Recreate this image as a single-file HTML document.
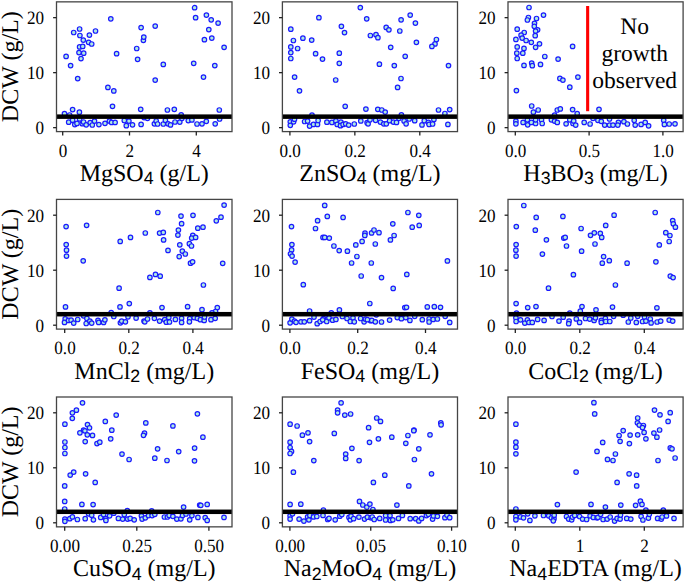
<!DOCTYPE html>
<html><head><meta charset="utf-8"><style>html,body{margin:0;padding:0;background:#fff;width:685px;height:583px;overflow:hidden}</style></head><body><svg width="685" height="583" viewBox="0 0 685 583" style="display:block;font-family:'Liberation Serif',serif;text-rendering:geometricPrecision">
<rect width="685" height="583" fill="#fff"/>
<g><g fill="#aeeadf" stroke="#1a1aff" stroke-width="1.2"><circle cx="110.8" cy="18.8" r="2.25"/><circle cx="141.1" cy="27.6" r="2.25"/><circle cx="79.6" cy="29.0" r="2.25"/><circle cx="73.7" cy="32.5" r="2.25"/><circle cx="95.5" cy="31.0" r="2.25"/><circle cx="79.9" cy="35.5" r="2.25"/><circle cx="89.4" cy="35.1" r="2.25"/><circle cx="83.3" cy="40.1" r="2.25"/><circle cx="88.6" cy="42.3" r="2.25"/><circle cx="91.7" cy="44.0" r="2.25"/><circle cx="79.6" cy="46.9" r="2.25"/><circle cx="82.7" cy="46.4" r="2.25"/><circle cx="79.0" cy="52.6" r="2.25"/><circle cx="83.7" cy="53.2" r="2.25"/><circle cx="66.1" cy="56.4" r="2.25"/><circle cx="81.0" cy="58.6" r="2.25"/><circle cx="70.6" cy="65.6" r="2.25"/><circle cx="116.6" cy="53.7" r="2.25"/><circle cx="136.7" cy="48.5" r="2.25"/><circle cx="137.6" cy="59.3" r="2.25"/><circle cx="143.4" cy="40.3" r="2.25"/><circle cx="143.8" cy="37.1" r="2.25"/><circle cx="155.2" cy="26.1" r="2.25"/><circle cx="194.6" cy="7.7" r="2.25"/><circle cx="195.6" cy="17.7" r="2.25"/><circle cx="206.4" cy="15.1" r="2.25"/><circle cx="211.2" cy="19.8" r="2.25"/><circle cx="218.1" cy="23.1" r="2.25"/><circle cx="208.8" cy="29.6" r="2.25"/><circle cx="204.4" cy="39.7" r="2.25"/><circle cx="211.8" cy="38.1" r="2.25"/><circle cx="224.1" cy="47.3" r="2.25"/><circle cx="163.3" cy="64.4" r="2.25"/><circle cx="193.7" cy="63.3" r="2.25"/><circle cx="214.8" cy="65.6" r="2.25"/><circle cx="77.7" cy="78.6" r="2.25"/><circle cx="107.9" cy="87.4" r="2.25"/><circle cx="113.8" cy="90.9" r="2.25"/><circle cx="155.2" cy="80.1" r="2.25"/><circle cx="203.5" cy="77.1" r="2.25"/><circle cx="112.5" cy="106.3" r="2.25"/><circle cx="72.6" cy="109.6" r="2.25"/><circle cx="79.4" cy="112.2" r="2.25"/><circle cx="64.5" cy="113.7" r="2.25"/><circle cx="69.6" cy="115" r="2.25"/><circle cx="140.7" cy="109.3" r="2.25"/><circle cx="167.4" cy="110" r="2.25"/><circle cx="174.3" cy="109.3" r="2.25"/><circle cx="219.3" cy="110" r="2.25"/><circle cx="181.2" cy="114.8" r="2.25"/><circle cx="144.1" cy="117.6" r="2.25"/><circle cx="68.7" cy="122.2" r="2.25"/><circle cx="72.6" cy="120.2" r="2.25"/><circle cx="74.8" cy="124.6" r="2.25"/><circle cx="77" cy="123.4" r="2.25"/><circle cx="79.6" cy="118.9" r="2.25"/><circle cx="82.3" cy="123.7" r="2.25"/><circle cx="83.6" cy="122" r="2.25"/><circle cx="86.2" cy="124.8" r="2.25"/><circle cx="90.2" cy="122.6" r="2.25"/><circle cx="92.3" cy="125" r="2.25"/><circle cx="94.5" cy="121.1" r="2.25"/><circle cx="98.9" cy="124.6" r="2.25"/><circle cx="105" cy="123.3" r="2.25"/><circle cx="109.4" cy="121.1" r="2.25"/><circle cx="111.6" cy="122.4" r="2.25"/><circle cx="115.1" cy="122.4" r="2.25"/><circle cx="124.3" cy="120.5" r="2.25"/><circle cx="128.9" cy="121.1" r="2.25"/><circle cx="126.3" cy="125.7" r="2.25"/><circle cx="132.5" cy="124.8" r="2.25"/><circle cx="141.1" cy="124.4" r="2.25"/><circle cx="147.5" cy="118.3" r="2.25"/><circle cx="154.4" cy="123.8" r="2.25"/><circle cx="156.2" cy="121" r="2.25"/><circle cx="157.6" cy="124" r="2.25"/><circle cx="163.3" cy="124" r="2.25"/><circle cx="165.4" cy="120.3" r="2.25"/><circle cx="168.1" cy="123.8" r="2.25"/><circle cx="170.5" cy="124.9" r="2.25"/><circle cx="175" cy="122" r="2.25"/><circle cx="179.8" cy="122.1" r="2.25"/><circle cx="181.9" cy="118.3" r="2.25"/><circle cx="188.3" cy="120.6" r="2.25"/><circle cx="191.9" cy="119.9" r="2.25"/><circle cx="197" cy="124" r="2.25"/><circle cx="202" cy="123.8" r="2.25"/><circle cx="206.3" cy="121.3" r="2.25"/><circle cx="215.2" cy="123.8" r="2.25"/><circle cx="219.6" cy="119" r="2.25"/></g><rect x="56.5" y="114.40" width="175.50" height="4.5" fill="#000"/><rect x="56.5" y="1.85" width="175.50" height="129.75" fill="none" stroke="#454545" stroke-width="1.3"/><line x1="53.1" x2="56.5" y1="127.65" y2="127.65" stroke="#222" stroke-width="1.3"/><text transform="translate(44.10,134.15) scale(0.91,1)" font-size="18.8" text-anchor="end">0</text><line x1="53.1" x2="56.5" y1="72.65" y2="72.65" stroke="#222" stroke-width="1.3"/><text transform="translate(44.10,79.15) scale(0.91,1)" font-size="18.8" text-anchor="end">10</text><line x1="53.1" x2="56.5" y1="17.65" y2="17.65" stroke="#222" stroke-width="1.3"/><text transform="translate(44.10,24.15) scale(0.91,1)" font-size="18.8" text-anchor="end">20</text><line x1="62.70" x2="62.70" y1="131.6" y2="135.5" stroke="#222" stroke-width="1.3"/><text transform="translate(63.00,156.60) scale(0.91,1)" font-size="18.8" text-anchor="middle">0</text><line x1="129.50" x2="129.50" y1="131.6" y2="135.5" stroke="#222" stroke-width="1.3"/><text transform="translate(129.80,156.60) scale(0.91,1)" font-size="18.8" text-anchor="middle">2</text><line x1="196.30" x2="196.30" y1="131.6" y2="135.5" stroke="#222" stroke-width="1.3"/><text transform="translate(196.60,156.60) scale(0.91,1)" font-size="18.8" text-anchor="middle">4</text><text x="144.25" y="181.20" font-size="24" text-anchor="middle" xml:space="preserve">MgSO<tspan font-size="17.8" dy="3.2" font-family="'Liberation Sans',sans-serif">4</tspan><tspan dy="-3.2"> (g/L)</tspan></text><text transform="translate(18,66.72) rotate(-90)" font-size="24" text-anchor="middle">DCW (g/L)</text></g>
<g><g fill="#aeeadf" stroke="#1a1aff" stroke-width="1.2"><circle cx="360.3" cy="7.6" r="2.25"/><circle cx="318.9" cy="17.7" r="2.25"/><circle cx="366.7" cy="18.8" r="2.25"/><circle cx="290.8" cy="29.2" r="2.25"/><circle cx="341.4" cy="26.3" r="2.25"/><circle cx="344.5" cy="32.6" r="2.25"/><circle cx="370.4" cy="35.5" r="2.25"/><circle cx="293.4" cy="40.5" r="2.25"/><circle cx="302.9" cy="38.2" r="2.25"/><circle cx="311.7" cy="40.1" r="2.25"/><circle cx="290.8" cy="46.9" r="2.25"/><circle cx="297.6" cy="48.5" r="2.25"/><circle cx="290.8" cy="52.6" r="2.25"/><circle cx="290.8" cy="58.5" r="2.25"/><circle cx="315.6" cy="53.7" r="2.25"/><circle cx="322.5" cy="59.1" r="2.25"/><circle cx="339.3" cy="53.2" r="2.25"/><circle cx="339.3" cy="63.3" r="2.25"/><circle cx="410.2" cy="15.1" r="2.25"/><circle cx="401.1" cy="19.8" r="2.25"/><circle cx="415.4" cy="23.1" r="2.25"/><circle cx="386.2" cy="27.4" r="2.25"/><circle cx="388.9" cy="29.8" r="2.25"/><circle cx="399.8" cy="31.0" r="2.25"/><circle cx="376" cy="34.7" r="2.25"/><circle cx="377.9" cy="37.7" r="2.25"/><circle cx="416.4" cy="42.3" r="2.25"/><circle cx="436.4" cy="39.5" r="2.25"/><circle cx="435" cy="43.9" r="2.25"/><circle cx="431.9" cy="46.4" r="2.25"/><circle cx="390.7" cy="47.3" r="2.25"/><circle cx="405.2" cy="56.3" r="2.25"/><circle cx="379.4" cy="64.2" r="2.25"/><circle cx="394.3" cy="65.6" r="2.25"/><circle cx="448.5" cy="65.6" r="2.25"/><circle cx="294.6" cy="77.1" r="2.25"/><circle cx="299.5" cy="90.8" r="2.25"/><circle cx="335.7" cy="80" r="2.25"/><circle cx="345.2" cy="106.3" r="2.25"/><circle cx="365.9" cy="109.1" r="2.25"/><circle cx="312" cy="115.2" r="2.25"/><circle cx="290.3" cy="121.8" r="2.25"/><circle cx="290.3" cy="125.3" r="2.25"/><circle cx="293.6" cy="121.8" r="2.25"/><circle cx="294.5" cy="119.2" r="2.25"/><circle cx="304.6" cy="121.5" r="2.25"/><circle cx="307.6" cy="121.1" r="2.25"/><circle cx="309.6" cy="126.1" r="2.25"/><circle cx="313.5" cy="124.4" r="2.25"/><circle cx="317.5" cy="124.4" r="2.25"/><circle cx="318.1" cy="120.5" r="2.25"/><circle cx="326.9" cy="122.2" r="2.25"/><circle cx="331.9" cy="122.4" r="2.25"/><circle cx="335.9" cy="120.9" r="2.25"/><circle cx="337.2" cy="124.4" r="2.25"/><circle cx="340.9" cy="122.2" r="2.25"/><circle cx="340.5" cy="125.7" r="2.25"/><circle cx="343.1" cy="124.4" r="2.25"/><circle cx="345.7" cy="123.8" r="2.25"/><circle cx="348.7" cy="125.1" r="2.25"/><circle cx="354.3" cy="124" r="2.25"/><circle cx="360.8" cy="120.9" r="2.25"/><circle cx="367.1" cy="122.7" r="2.25"/><circle cx="368.1" cy="123.8" r="2.25"/><circle cx="370" cy="119.8" r="2.25"/><circle cx="401" cy="78.5" r="2.25"/><circle cx="397.6" cy="87.4" r="2.25"/><circle cx="377.8" cy="109.3" r="2.25"/><circle cx="381.8" cy="110" r="2.25"/><circle cx="385.2" cy="112.1" r="2.25"/><circle cx="401.4" cy="114.8" r="2.25"/><circle cx="438.5" cy="110" r="2.25"/><circle cx="449.7" cy="109.6" r="2.25"/><circle cx="444.9" cy="113.5" r="2.25"/><circle cx="375.6" cy="120.3" r="2.25"/><circle cx="380.4" cy="122.1" r="2.25"/><circle cx="383.8" cy="123.8" r="2.25"/><circle cx="386.3" cy="123.8" r="2.25"/><circle cx="389.6" cy="120.7" r="2.25"/><circle cx="393.4" cy="122.1" r="2.25"/><circle cx="396.5" cy="122.4" r="2.25"/><circle cx="398.9" cy="118.3" r="2.25"/><circle cx="404.1" cy="121" r="2.25"/><circle cx="406.1" cy="123.8" r="2.25"/><circle cx="409.2" cy="119" r="2.25"/><circle cx="414.7" cy="120.7" r="2.25"/><circle cx="422" cy="124.9" r="2.25"/><circle cx="424.3" cy="120.7" r="2.25"/><circle cx="428.4" cy="122.4" r="2.25"/><circle cx="429.1" cy="124.4" r="2.25"/><circle cx="432.6" cy="124" r="2.25"/><circle cx="433.9" cy="119.4" r="2.25"/><circle cx="447.9" cy="124.4" r="2.25"/></g><rect x="282.4" y="114.40" width="175.10" height="4.5" fill="#000"/><rect x="282.4" y="1.85" width="175.10" height="129.75" fill="none" stroke="#454545" stroke-width="1.3"/><line x1="279.0" x2="282.4" y1="127.65" y2="127.65" stroke="#222" stroke-width="1.3"/><text transform="translate(270.00,134.15) scale(0.91,1)" font-size="18.8" text-anchor="end">0</text><line x1="279.0" x2="282.4" y1="72.65" y2="72.65" stroke="#222" stroke-width="1.3"/><text transform="translate(270.00,79.15) scale(0.91,1)" font-size="18.8" text-anchor="end">10</text><line x1="279.0" x2="282.4" y1="17.65" y2="17.65" stroke="#222" stroke-width="1.3"/><text transform="translate(270.00,24.15) scale(0.91,1)" font-size="18.8" text-anchor="end">20</text><line x1="289.90" x2="289.90" y1="131.6" y2="135.5" stroke="#222" stroke-width="1.3"/><text transform="translate(290.20,156.60) scale(0.91,1)" font-size="18.8" text-anchor="middle">0.0</text><line x1="354.85" x2="354.85" y1="131.6" y2="135.5" stroke="#222" stroke-width="1.3"/><text transform="translate(355.15,156.60) scale(0.91,1)" font-size="18.8" text-anchor="middle">0.2</text><line x1="419.80" x2="419.80" y1="131.6" y2="135.5" stroke="#222" stroke-width="1.3"/><text transform="translate(420.10,156.60) scale(0.91,1)" font-size="18.8" text-anchor="middle">0.4</text><text x="369.95" y="181.20" font-size="24" text-anchor="middle" xml:space="preserve">ZnSO<tspan font-size="17.8" dy="3.2" font-family="'Liberation Sans',sans-serif">4</tspan><tspan dy="-3.2"> (mg/L)</tspan></text></g>
<g><g fill="#aeeadf" stroke="#1a1aff" stroke-width="1.2"><circle cx="529" cy="7.5" r="2.25"/><circle cx="543.5" cy="15.1" r="2.25"/><circle cx="528.4" cy="17.5" r="2.25"/><circle cx="527.4" cy="20" r="2.25"/><circle cx="536.5" cy="18.5" r="2.25"/><circle cx="534.5" cy="23.3" r="2.25"/><circle cx="534.3" cy="26.3" r="2.25"/><circle cx="537.6" cy="29.8" r="2.25"/><circle cx="535.6" cy="31.1" r="2.25"/><circle cx="517.2" cy="29.2" r="2.25"/><circle cx="524.2" cy="32.5" r="2.25"/><circle cx="521.1" cy="35.2" r="2.25"/><circle cx="522.2" cy="38.1" r="2.25"/><circle cx="535.2" cy="35.7" r="2.25"/><circle cx="515.9" cy="39.4" r="2.25"/><circle cx="526.1" cy="40.5" r="2.25"/><circle cx="531.3" cy="42.3" r="2.25"/><circle cx="539.5" cy="43.8" r="2.25"/><circle cx="535.6" cy="47.3" r="2.25"/><circle cx="517.2" cy="46.9" r="2.25"/><circle cx="524" cy="48.4" r="2.25"/><circle cx="516.8" cy="53.2" r="2.25"/><circle cx="522.8" cy="53.2" r="2.25"/><circle cx="517.2" cy="58.5" r="2.25"/><circle cx="544.8" cy="56.5" r="2.25"/><circle cx="558.1" cy="59.1" r="2.25"/><circle cx="572.6" cy="46.4" r="2.25"/><circle cx="531.7" cy="63.1" r="2.25"/><circle cx="532.3" cy="65.7" r="2.25"/><circle cx="524" cy="65.4" r="2.25"/><circle cx="540.5" cy="64.4" r="2.25"/><circle cx="516.4" cy="90.6" r="2.25"/><circle cx="559.9" cy="78.4" r="2.25"/><circle cx="562.9" cy="80.1" r="2.25"/><circle cx="577.9" cy="77.1" r="2.25"/><circle cx="569.8" cy="87.2" r="2.25"/><circle cx="531.7" cy="106" r="2.25"/><circle cx="538.2" cy="110" r="2.25"/><circle cx="533.4" cy="112.2" r="2.25"/><circle cx="557.3" cy="110" r="2.25"/><circle cx="560.3" cy="108.9" r="2.25"/><circle cx="572.6" cy="109.6" r="2.25"/><circle cx="577.2" cy="113.6" r="2.25"/><circle cx="599" cy="109.3" r="2.25"/><circle cx="554.6" cy="115.2" r="2.25"/><circle cx="515.9" cy="121.1" r="2.25"/><circle cx="515.9" cy="123.8" r="2.25"/><circle cx="523.1" cy="122.4" r="2.25"/><circle cx="527.4" cy="119.8" r="2.25"/><circle cx="527.7" cy="124.8" r="2.25"/><circle cx="531.4" cy="122.4" r="2.25"/><circle cx="535.6" cy="123.5" r="2.25"/><circle cx="535.6" cy="119.8" r="2.25"/><circle cx="541.5" cy="119.8" r="2.25"/><circle cx="542.2" cy="123.5" r="2.25"/><circle cx="551.4" cy="119.8" r="2.25"/><circle cx="554.6" cy="121.1" r="2.25"/><circle cx="557.3" cy="122.4" r="2.25"/><circle cx="566.1" cy="123.8" r="2.25"/><circle cx="569.8" cy="119.8" r="2.25"/><circle cx="573" cy="123.5" r="2.25"/><circle cx="573.7" cy="120.9" r="2.25"/><circle cx="575.7" cy="125.1" r="2.25"/><circle cx="584.2" cy="122.4" r="2.25"/><circle cx="590.1" cy="124" r="2.25"/><circle cx="593" cy="118.3" r="2.25"/><circle cx="597.9" cy="120.3" r="2.25"/><circle cx="601.3" cy="121.3" r="2.25"/><circle cx="604.7" cy="125.1" r="2.25"/><circle cx="609.5" cy="125.1" r="2.25"/><circle cx="609.5" cy="119" r="2.25"/><circle cx="613" cy="125.1" r="2.25"/><circle cx="618.4" cy="122.4" r="2.25"/><circle cx="617.8" cy="125.1" r="2.25"/><circle cx="623.9" cy="121.7" r="2.25"/><circle cx="627.4" cy="124" r="2.25"/><circle cx="634.2" cy="120.3" r="2.25"/><circle cx="635.2" cy="125.1" r="2.25"/><circle cx="641.1" cy="124.4" r="2.25"/><circle cx="645.2" cy="122.4" r="2.25"/><circle cx="648.6" cy="125.8" r="2.25"/><circle cx="663.7" cy="120.3" r="2.25"/><circle cx="664.4" cy="124.4" r="2.25"/><circle cx="669.2" cy="124" r="2.25"/><circle cx="675" cy="123.8" r="2.25"/></g><rect x="508.0" y="114.40" width="175.10" height="4.5" fill="#000"/><rect x="508.0" y="1.85" width="175.10" height="129.75" fill="none" stroke="#454545" stroke-width="1.3"/><line x1="504.6" x2="508.0" y1="127.65" y2="127.65" stroke="#222" stroke-width="1.3"/><text transform="translate(495.60,134.15) scale(0.91,1)" font-size="18.8" text-anchor="end">0</text><line x1="504.6" x2="508.0" y1="72.65" y2="72.65" stroke="#222" stroke-width="1.3"/><text transform="translate(495.60,79.15) scale(0.91,1)" font-size="18.8" text-anchor="end">10</text><line x1="504.6" x2="508.0" y1="17.65" y2="17.65" stroke="#222" stroke-width="1.3"/><text transform="translate(495.60,24.15) scale(0.91,1)" font-size="18.8" text-anchor="end">20</text><line x1="515.30" x2="515.30" y1="131.6" y2="135.5" stroke="#222" stroke-width="1.3"/><text transform="translate(515.60,156.60) scale(0.91,1)" font-size="18.8" text-anchor="middle">0.0</text><line x1="589.10" x2="589.10" y1="131.6" y2="135.5" stroke="#222" stroke-width="1.3"/><text transform="translate(589.40,156.60) scale(0.91,1)" font-size="18.8" text-anchor="middle">0.5</text><line x1="662.90" x2="662.90" y1="131.6" y2="135.5" stroke="#222" stroke-width="1.3"/><text transform="translate(663.20,156.60) scale(0.91,1)" font-size="18.8" text-anchor="middle">1.0</text><text x="595.55" y="181.20" font-size="24" text-anchor="middle" xml:space="preserve">H<tspan font-size="17.8" dy="3.2" font-family="'Liberation Sans',sans-serif">3</tspan><tspan dy="-3.2">BO</tspan><tspan font-size="17.8" dy="3.2" font-family="'Liberation Sans',sans-serif">3</tspan><tspan dy="-3.2"> (mg/L)</tspan></text><rect x="586.1" y="6.0" width="3.1" height="105.2" fill="#ff0000"/><text font-size="23.5" text-anchor="middle"><tspan x="634.7" y="33.5">No</tspan><tspan x="634.7" y="60.9">growth</tspan><tspan x="634.7" y="88.4">observed</tspan></text></g>
<g><g fill="#aeeadf" stroke="#1a1aff" stroke-width="1.2"><circle cx="66.1" cy="226.6" r="2.25"/><circle cx="86.6" cy="225.3" r="2.25"/><circle cx="66.2" cy="244.6" r="2.25"/><circle cx="66.5" cy="250.2" r="2.25"/><circle cx="66.5" cy="256.1" r="2.25"/><circle cx="83.2" cy="260.8" r="2.25"/><circle cx="120.2" cy="241.4" r="2.25"/><circle cx="130.5" cy="237.4" r="2.25"/><circle cx="224.1" cy="205.1" r="2.25"/><circle cx="157.8" cy="212.5" r="2.25"/><circle cx="181" cy="216.1" r="2.25"/><circle cx="193" cy="215.3" r="2.25"/><circle cx="221" cy="217.2" r="2.25"/><circle cx="216.3" cy="220.8" r="2.25"/><circle cx="181.6" cy="223.7" r="2.25"/><circle cx="197.8" cy="228.2" r="2.25"/><circle cx="203" cy="227.2" r="2.25"/><circle cx="178.4" cy="230.1" r="2.25"/><circle cx="145.3" cy="233" r="2.25"/><circle cx="159.6" cy="233.1" r="2.25"/><circle cx="163.3" cy="232.4" r="2.25"/><circle cx="177.9" cy="235.1" r="2.25"/><circle cx="192.8" cy="235.3" r="2.25"/><circle cx="191.7" cy="238.1" r="2.25"/><circle cx="195.6" cy="237.4" r="2.25"/><circle cx="163.6" cy="239.9" r="2.25"/><circle cx="179.8" cy="244.8" r="2.25"/><circle cx="189.4" cy="243.7" r="2.25"/><circle cx="191.5" cy="246" r="2.25"/><circle cx="168" cy="250.4" r="2.25"/><circle cx="182.3" cy="251.1" r="2.25"/><circle cx="185.3" cy="254" r="2.25"/><circle cx="179.2" cy="256.6" r="2.25"/><circle cx="190.5" cy="263.2" r="2.25"/><circle cx="192.6" cy="261.8" r="2.25"/><circle cx="222.7" cy="263.3" r="2.25"/><circle cx="119.1" cy="288.2" r="2.25"/><circle cx="65.5" cy="306.9" r="2.25"/><circle cx="120" cy="306.9" r="2.25"/><circle cx="129.3" cy="303.6" r="2.25"/><circle cx="111.2" cy="312.6" r="2.25"/><circle cx="65.2" cy="318.9" r="2.25"/><circle cx="64.5" cy="322.4" r="2.25"/><circle cx="68.5" cy="320.4" r="2.25"/><circle cx="71.1" cy="320.2" r="2.25"/><circle cx="73.7" cy="323.1" r="2.25"/><circle cx="77.7" cy="319.5" r="2.25"/><circle cx="83.6" cy="315.8" r="2.25"/><circle cx="86.9" cy="318.5" r="2.25"/><circle cx="86.2" cy="323.5" r="2.25"/><circle cx="89.9" cy="321.1" r="2.25"/><circle cx="91.7" cy="323.1" r="2.25"/><circle cx="98" cy="320.4" r="2.25"/><circle cx="98.7" cy="322.4" r="2.25"/><circle cx="103.6" cy="322.4" r="2.25"/><circle cx="104.9" cy="319.8" r="2.25"/><circle cx="113.8" cy="316.5" r="2.25"/><circle cx="120.4" cy="322.8" r="2.25"/><circle cx="121.7" cy="321.1" r="2.25"/><circle cx="125.4" cy="321.8" r="2.25"/><circle cx="128" cy="316.8" r="2.25"/><circle cx="136.1" cy="318.1" r="2.25"/><circle cx="144" cy="321.1" r="2.25"/><circle cx="149.9" cy="277.4" r="2.25"/><circle cx="155.5" cy="274.4" r="2.25"/><circle cx="160.2" cy="276.2" r="2.25"/><circle cx="203.4" cy="285" r="2.25"/><circle cx="162" cy="307.6" r="2.25"/><circle cx="187.6" cy="306.7" r="2.25"/><circle cx="202" cy="309.7" r="2.25"/><circle cx="217.3" cy="307.6" r="2.25"/><circle cx="215.5" cy="311.5" r="2.25"/><circle cx="149.9" cy="312.8" r="2.25"/><circle cx="212" cy="312.8" r="2.25"/><circle cx="144.8" cy="321.8" r="2.25"/><circle cx="147.5" cy="319" r="2.25"/><circle cx="154.4" cy="318.3" r="2.25"/><circle cx="159.6" cy="321.1" r="2.25"/><circle cx="164.7" cy="319.7" r="2.25"/><circle cx="166.3" cy="322.2" r="2.25"/><circle cx="169.5" cy="322" r="2.25"/><circle cx="168.8" cy="317.4" r="2.25"/><circle cx="175.4" cy="319.4" r="2.25"/><circle cx="181.6" cy="318.3" r="2.25"/><circle cx="181.6" cy="322.4" r="2.25"/><circle cx="189.7" cy="318.7" r="2.25"/><circle cx="189.4" cy="321.8" r="2.25"/><circle cx="194.2" cy="317.6" r="2.25"/><circle cx="197.4" cy="318.3" r="2.25"/><circle cx="200.4" cy="319.7" r="2.25"/><circle cx="204.2" cy="320.4" r="2.25"/><circle cx="204.5" cy="317" r="2.25"/><circle cx="211" cy="319.7" r="2.25"/><circle cx="215.2" cy="318.3" r="2.25"/></g><rect x="56.5" y="311.95" width="175.50" height="4.5" fill="#000"/><rect x="56.5" y="199.4" width="175.50" height="129.70" fill="none" stroke="#454545" stroke-width="1.3"/><line x1="53.1" x2="56.5" y1="325.20" y2="325.20" stroke="#222" stroke-width="1.3"/><text transform="translate(44.10,331.70) scale(0.91,1)" font-size="18.8" text-anchor="end">0</text><line x1="53.1" x2="56.5" y1="270.20" y2="270.20" stroke="#222" stroke-width="1.3"/><text transform="translate(44.10,276.70) scale(0.91,1)" font-size="18.8" text-anchor="end">10</text><line x1="53.1" x2="56.5" y1="215.20" y2="215.20" stroke="#222" stroke-width="1.3"/><text transform="translate(44.10,221.70) scale(0.91,1)" font-size="18.8" text-anchor="end">20</text><line x1="64.70" x2="64.70" y1="329.1" y2="333.0" stroke="#222" stroke-width="1.3"/><text transform="translate(65.00,354.10) scale(0.91,1)" font-size="18.8" text-anchor="middle">0.0</text><line x1="128.80" x2="128.80" y1="329.1" y2="333.0" stroke="#222" stroke-width="1.3"/><text transform="translate(129.10,354.10) scale(0.91,1)" font-size="18.8" text-anchor="middle">0.2</text><line x1="192.90" x2="192.90" y1="329.1" y2="333.0" stroke="#222" stroke-width="1.3"/><text transform="translate(193.20,354.10) scale(0.91,1)" font-size="18.8" text-anchor="middle">0.4</text><text x="144.25" y="378.70" font-size="24" text-anchor="middle" xml:space="preserve">MnCl<tspan font-size="17.8" dy="3.2" font-family="'Liberation Sans',sans-serif">2</tspan><tspan dy="-3.2"> (mg/L)</tspan></text><text transform="translate(18,264.25) rotate(-90)" font-size="24" text-anchor="middle">DCW (g/L)</text></g>
<g><g fill="#aeeadf" stroke="#1a1aff" stroke-width="1.2"><circle cx="324.7" cy="205.4" r="2.25"/><circle cx="327.3" cy="216.4" r="2.25"/><circle cx="343.1" cy="217.4" r="2.25"/><circle cx="317.6" cy="220.7" r="2.25"/><circle cx="291.5" cy="226.6" r="2.25"/><circle cx="315.5" cy="228.5" r="2.25"/><circle cx="323" cy="237.4" r="2.25"/><circle cx="324.7" cy="237.4" r="2.25"/><circle cx="329.3" cy="238.1" r="2.25"/><circle cx="365" cy="233.2" r="2.25"/><circle cx="364.8" cy="235.4" r="2.25"/><circle cx="371.6" cy="232.9" r="2.25"/><circle cx="291.9" cy="244.6" r="2.25"/><circle cx="291.6" cy="249.9" r="2.25"/><circle cx="290.5" cy="253.8" r="2.25"/><circle cx="292.1" cy="256.1" r="2.25"/><circle cx="295.1" cy="262.1" r="2.25"/><circle cx="333.9" cy="246" r="2.25"/><circle cx="339.2" cy="250.6" r="2.25"/><circle cx="347.4" cy="251.2" r="2.25"/><circle cx="355.8" cy="244.9" r="2.25"/><circle cx="362.1" cy="241.4" r="2.25"/><circle cx="356.9" cy="256.5" r="2.25"/><circle cx="351.6" cy="263" r="2.25"/><circle cx="371.3" cy="263" r="2.25"/><circle cx="407.9" cy="212.5" r="2.25"/><circle cx="418.8" cy="215.3" r="2.25"/><circle cx="392.8" cy="223.8" r="2.25"/><circle cx="412.2" cy="227.2" r="2.25"/><circle cx="419.2" cy="225.4" r="2.25"/><circle cx="374" cy="230" r="2.25"/><circle cx="379" cy="232.7" r="2.25"/><circle cx="394.1" cy="235.5" r="2.25"/><circle cx="390.4" cy="239.9" r="2.25"/><circle cx="375.3" cy="244" r="2.25"/><circle cx="447.4" cy="260.9" r="2.25"/><circle cx="303.3" cy="284.7" r="2.25"/><circle cx="361.2" cy="276" r="2.25"/><circle cx="369.8" cy="303.5" r="2.25"/><circle cx="309.6" cy="311" r="2.25"/><circle cx="339.4" cy="309.9" r="2.25"/><circle cx="331.3" cy="312.8" r="2.25"/><circle cx="290.1" cy="322.8" r="2.25"/><circle cx="291.9" cy="319.1" r="2.25"/><circle cx="294.5" cy="321.1" r="2.25"/><circle cx="301" cy="321.8" r="2.25"/><circle cx="304.3" cy="321.8" r="2.25"/><circle cx="309.6" cy="320.7" r="2.25"/><circle cx="314" cy="317.1" r="2.25"/><circle cx="296" cy="322.3" r="2.25"/><circle cx="325.8" cy="319.3" r="2.25"/><circle cx="323.4" cy="318.6" r="2.25"/><circle cx="317.2" cy="323.7" r="2.25"/><circle cx="320.1" cy="321.5" r="2.25"/><circle cx="322.7" cy="319.8" r="2.25"/><circle cx="326.7" cy="321.5" r="2.25"/><circle cx="329" cy="317.8" r="2.25"/><circle cx="332.6" cy="320.2" r="2.25"/><circle cx="335.9" cy="319.4" r="2.25"/><circle cx="342.4" cy="316.5" r="2.25"/><circle cx="347" cy="318.5" r="2.25"/><circle cx="350.3" cy="321.5" r="2.25"/><circle cx="353" cy="317.8" r="2.25"/><circle cx="354.3" cy="321.8" r="2.25"/><circle cx="360.6" cy="318.5" r="2.25"/><circle cx="364.1" cy="321.8" r="2.25"/><circle cx="365.4" cy="319.1" r="2.25"/><circle cx="370.7" cy="320.7" r="2.25"/><circle cx="381.5" cy="277.6" r="2.25"/><circle cx="406.8" cy="274.4" r="2.25"/><circle cx="393.2" cy="288.4" r="2.25"/><circle cx="404.8" cy="307.6" r="2.25"/><circle cx="406.5" cy="307.3" r="2.25"/><circle cx="427.3" cy="306.9" r="2.25"/><circle cx="434.3" cy="306.7" r="2.25"/><circle cx="440.5" cy="307.3" r="2.25"/><circle cx="376.3" cy="314.8" r="2.25"/><circle cx="367.4" cy="319.7" r="2.25"/><circle cx="371.8" cy="320.4" r="2.25"/><circle cx="375.3" cy="321.8" r="2.25"/><circle cx="381.5" cy="322" r="2.25"/><circle cx="389.6" cy="320.1" r="2.25"/><circle cx="397.3" cy="317.6" r="2.25"/><circle cx="401.4" cy="318.7" r="2.25"/><circle cx="405.8" cy="317.6" r="2.25"/><circle cx="409.9" cy="320.4" r="2.25"/><circle cx="414.7" cy="316.3" r="2.25"/><circle cx="422.3" cy="319.7" r="2.25"/><circle cx="429.1" cy="319" r="2.25"/><circle cx="429.1" cy="322" r="2.25"/><circle cx="433.2" cy="319.4" r="2.25"/><circle cx="437.4" cy="319" r="2.25"/><circle cx="445.2" cy="316.3" r="2.25"/><circle cx="449.7" cy="322.4" r="2.25"/></g><rect x="282.4" y="311.95" width="175.10" height="4.5" fill="#000"/><rect x="282.4" y="199.4" width="175.10" height="129.70" fill="none" stroke="#454545" stroke-width="1.3"/><line x1="279.0" x2="282.4" y1="325.20" y2="325.20" stroke="#222" stroke-width="1.3"/><text transform="translate(270.00,331.70) scale(0.91,1)" font-size="18.8" text-anchor="end">0</text><line x1="279.0" x2="282.4" y1="270.20" y2="270.20" stroke="#222" stroke-width="1.3"/><text transform="translate(270.00,276.70) scale(0.91,1)" font-size="18.8" text-anchor="end">10</text><line x1="279.0" x2="282.4" y1="215.20" y2="215.20" stroke="#222" stroke-width="1.3"/><text transform="translate(270.00,221.70) scale(0.91,1)" font-size="18.8" text-anchor="end">20</text><line x1="289.90" x2="289.90" y1="329.1" y2="333.0" stroke="#222" stroke-width="1.3"/><text transform="translate(290.20,354.10) scale(0.91,1)" font-size="18.8" text-anchor="middle">0.0</text><line x1="357.70" x2="357.70" y1="329.1" y2="333.0" stroke="#222" stroke-width="1.3"/><text transform="translate(358.00,354.10) scale(0.91,1)" font-size="18.8" text-anchor="middle">0.2</text><line x1="425.50" x2="425.50" y1="329.1" y2="333.0" stroke="#222" stroke-width="1.3"/><text transform="translate(425.80,354.10) scale(0.91,1)" font-size="18.8" text-anchor="middle">0.4</text><text x="369.95" y="378.70" font-size="24" text-anchor="middle" xml:space="preserve">FeSO<tspan font-size="17.8" dy="3.2" font-family="'Liberation Sans',sans-serif">4</tspan><tspan dy="-3.2"> (mg/L)</tspan></text></g>
<g><g fill="#aeeadf" stroke="#1a1aff" stroke-width="1.2"><circle cx="523.8" cy="205.5" r="2.25"/><circle cx="536.2" cy="217.4" r="2.25"/><circle cx="562.9" cy="216.4" r="2.25"/><circle cx="516.3" cy="226.6" r="2.25"/><circle cx="535.3" cy="230.2" r="2.25"/><circle cx="581.1" cy="228.5" r="2.25"/><circle cx="590.5" cy="235.3" r="2.25"/><circle cx="594.3" cy="232.8" r="2.25"/><circle cx="546.4" cy="239.8" r="2.25"/><circle cx="563.8" cy="238.1" r="2.25"/><circle cx="565.2" cy="237.4" r="2.25"/><circle cx="566.5" cy="246" r="2.25"/><circle cx="595" cy="244" r="2.25"/><circle cx="516.1" cy="244.6" r="2.25"/><circle cx="515.9" cy="250.2" r="2.25"/><circle cx="516.1" cy="256.1" r="2.25"/><circle cx="542.4" cy="254.1" r="2.25"/><circle cx="581.6" cy="251.2" r="2.25"/><circle cx="614.1" cy="215.2" r="2.25"/><circle cx="605.7" cy="225.4" r="2.25"/><circle cx="600.3" cy="233.3" r="2.25"/><circle cx="601.7" cy="237.4" r="2.25"/><circle cx="655.2" cy="212.5" r="2.25"/><circle cx="672.7" cy="220.6" r="2.25"/><circle cx="673.3" cy="223.8" r="2.25"/><circle cx="675.4" cy="227.2" r="2.25"/><circle cx="665.8" cy="232.7" r="2.25"/><circle cx="669.9" cy="235.5" r="2.25"/><circle cx="669.2" cy="241.5" r="2.25"/><circle cx="659.3" cy="244.9" r="2.25"/><circle cx="603.6" cy="256.6" r="2.25"/><circle cx="609.3" cy="260.7" r="2.25"/><circle cx="602.3" cy="263.2" r="2.25"/><circle cx="627.1" cy="263.2" r="2.25"/><circle cx="655.9" cy="261.8" r="2.25"/><circle cx="573.4" cy="274.7" r="2.25"/><circle cx="548.5" cy="288.2" r="2.25"/><circle cx="516.1" cy="303.6" r="2.25"/><circle cx="527.7" cy="307.6" r="2.25"/><circle cx="536" cy="306.6" r="2.25"/><circle cx="582" cy="306.6" r="2.25"/><circle cx="580.3" cy="311.2" r="2.25"/><circle cx="596" cy="309.8" r="2.25"/><circle cx="516.5" cy="313.2" r="2.25"/><circle cx="569.8" cy="313.2" r="2.25"/><circle cx="515.9" cy="317.8" r="2.25"/><circle cx="516.1" cy="321.5" r="2.25"/><circle cx="520.5" cy="319.8" r="2.25"/><circle cx="524.8" cy="323.1" r="2.25"/><circle cx="527.4" cy="319.8" r="2.25"/><circle cx="529" cy="322.4" r="2.25"/><circle cx="532.3" cy="322.4" r="2.25"/><circle cx="537.6" cy="319.4" r="2.25"/><circle cx="544.1" cy="320.4" r="2.25"/><circle cx="552" cy="316.5" r="2.25"/><circle cx="559" cy="321.1" r="2.25"/><circle cx="563.2" cy="317.2" r="2.25"/><circle cx="569.1" cy="321.1" r="2.25"/><circle cx="568.7" cy="323.7" r="2.25"/><circle cx="576.3" cy="318.9" r="2.25"/><circle cx="579.6" cy="322.4" r="2.25"/><circle cx="585.5" cy="318.5" r="2.25"/><circle cx="589.7" cy="319.1" r="2.25"/><circle cx="594.1" cy="320.4" r="2.25"/><circle cx="595.4" cy="317.8" r="2.25"/><circle cx="670.3" cy="276.1" r="2.25"/><circle cx="673.1" cy="277.6" r="2.25"/><circle cx="615.4" cy="285" r="2.25"/><circle cx="612.5" cy="307.1" r="2.25"/><circle cx="656.9" cy="307.8" r="2.25"/><circle cx="623.2" cy="315.2" r="2.25"/><circle cx="601.3" cy="320.4" r="2.25"/><circle cx="601.3" cy="322.4" r="2.25"/><circle cx="605.4" cy="318.3" r="2.25"/><circle cx="605.8" cy="321.5" r="2.25"/><circle cx="609.8" cy="321.5" r="2.25"/><circle cx="613.6" cy="316.3" r="2.25"/><circle cx="628.3" cy="322" r="2.25"/><circle cx="630.8" cy="318" r="2.25"/><circle cx="636.3" cy="322.4" r="2.25"/><circle cx="637.7" cy="316.3" r="2.25"/><circle cx="642.5" cy="321.5" r="2.25"/><circle cx="644.5" cy="317" r="2.25"/><circle cx="645.9" cy="321.1" r="2.25"/><circle cx="650.3" cy="319" r="2.25"/><circle cx="651.1" cy="322.9" r="2.25"/><circle cx="657.1" cy="322" r="2.25"/><circle cx="660.7" cy="321.1" r="2.25"/><circle cx="669.2" cy="320.1" r="2.25"/><circle cx="672.7" cy="321.1" r="2.25"/></g><rect x="508.0" y="311.95" width="175.10" height="4.5" fill="#000"/><rect x="508.0" y="199.4" width="175.10" height="129.70" fill="none" stroke="#454545" stroke-width="1.3"/><line x1="504.6" x2="508.0" y1="325.20" y2="325.20" stroke="#222" stroke-width="1.3"/><text transform="translate(495.60,331.70) scale(0.91,1)" font-size="18.8" text-anchor="end">0</text><line x1="504.6" x2="508.0" y1="270.20" y2="270.20" stroke="#222" stroke-width="1.3"/><text transform="translate(495.60,276.70) scale(0.91,1)" font-size="18.8" text-anchor="end">10</text><line x1="504.6" x2="508.0" y1="215.20" y2="215.20" stroke="#222" stroke-width="1.3"/><text transform="translate(495.60,221.70) scale(0.91,1)" font-size="18.8" text-anchor="end">20</text><line x1="515.30" x2="515.30" y1="329.1" y2="333.0" stroke="#222" stroke-width="1.3"/><text transform="translate(515.60,354.10) scale(0.91,1)" font-size="18.8" text-anchor="middle">0.0</text><line x1="579.80" x2="579.80" y1="329.1" y2="333.0" stroke="#222" stroke-width="1.3"/><text transform="translate(580.10,354.10) scale(0.91,1)" font-size="18.8" text-anchor="middle">0.2</text><line x1="644.30" x2="644.30" y1="329.1" y2="333.0" stroke="#222" stroke-width="1.3"/><text transform="translate(644.60,354.10) scale(0.91,1)" font-size="18.8" text-anchor="middle">0.4</text><text x="595.55" y="378.70" font-size="24" text-anchor="middle" xml:space="preserve">CoCl<tspan font-size="17.8" dy="3.2" font-family="'Liberation Sans',sans-serif">2</tspan><tspan dy="-3.2"> (mg/L)</tspan></text></g>
<g><g fill="#aeeadf" stroke="#1a1aff" stroke-width="1.2"><circle cx="82.5" cy="402.8" r="2.25"/><circle cx="76.4" cy="410.2" r="2.25"/><circle cx="72.4" cy="412.8" r="2.25"/><circle cx="72.3" cy="418.3" r="2.25"/><circle cx="116.2" cy="415.1" r="2.25"/><circle cx="64.9" cy="424.2" r="2.25"/><circle cx="105.3" cy="421.4" r="2.25"/><circle cx="87.5" cy="424.6" r="2.25"/><circle cx="89.5" cy="427.8" r="2.25"/><circle cx="83.6" cy="430.2" r="2.25"/><circle cx="84.9" cy="430.8" r="2.25"/><circle cx="79.9" cy="432.8" r="2.25"/><circle cx="87.3" cy="434.8" r="2.25"/><circle cx="92.5" cy="435.4" r="2.25"/><circle cx="111.8" cy="430.2" r="2.25"/><circle cx="145.8" cy="422.9" r="2.25"/><circle cx="144.5" cy="433.2" r="2.25"/><circle cx="143.5" cy="435.3" r="2.25"/><circle cx="85.2" cy="441.6" r="2.25"/><circle cx="64.9" cy="442" r="2.25"/><circle cx="64.9" cy="447.5" r="2.25"/><circle cx="64.9" cy="453.5" r="2.25"/><circle cx="97" cy="443.6" r="2.25"/><circle cx="99.8" cy="442.2" r="2.25"/><circle cx="110.7" cy="438.8" r="2.25"/><circle cx="122" cy="454.1" r="2.25"/><circle cx="129.1" cy="459.5" r="2.25"/><circle cx="197.4" cy="413.8" r="2.25"/><circle cx="172.9" cy="425.9" r="2.25"/><circle cx="202.9" cy="437.2" r="2.25"/><circle cx="157.6" cy="448.8" r="2.25"/><circle cx="178.7" cy="451.6" r="2.25"/><circle cx="194.6" cy="448.1" r="2.25"/><circle cx="154.8" cy="458.2" r="2.25"/><circle cx="167" cy="460.5" r="2.25"/><circle cx="194.5" cy="460.8" r="2.25"/><circle cx="70.2" cy="475.1" r="2.25"/><circle cx="73.7" cy="472.1" r="2.25"/><circle cx="85.6" cy="473.8" r="2.25"/><circle cx="64.7" cy="485.9" r="2.25"/><circle cx="95.2" cy="482.4" r="2.25"/><circle cx="64.7" cy="501.4" r="2.25"/><circle cx="81.9" cy="504.4" r="2.25"/><circle cx="93.1" cy="504.6" r="2.25"/><circle cx="64.7" cy="509" r="2.25"/><circle cx="127.3" cy="510.6" r="2.25"/><circle cx="64.9" cy="519.1" r="2.25"/><circle cx="64.9" cy="521.3" r="2.25"/><circle cx="69.8" cy="518.7" r="2.25"/><circle cx="72.4" cy="516.9" r="2.25"/><circle cx="77.4" cy="519.5" r="2.25"/><circle cx="85.2" cy="518.7" r="2.25"/><circle cx="88.6" cy="513.8" r="2.25"/><circle cx="91.7" cy="515.2" r="2.25"/><circle cx="93.4" cy="519.8" r="2.25"/><circle cx="100.7" cy="517.4" r="2.25"/><circle cx="103.6" cy="514.5" r="2.25"/><circle cx="105.7" cy="518.7" r="2.25"/><circle cx="105.9" cy="520.4" r="2.25"/><circle cx="109.6" cy="515.8" r="2.25"/><circle cx="113.8" cy="513.2" r="2.25"/><circle cx="118.4" cy="518.4" r="2.25"/><circle cx="122.7" cy="519.1" r="2.25"/><circle cx="124.3" cy="514.5" r="2.25"/><circle cx="127.6" cy="519.1" r="2.25"/><circle cx="130.2" cy="518.4" r="2.25"/><circle cx="134.2" cy="519.8" r="2.25"/><circle cx="141.4" cy="515.8" r="2.25"/><circle cx="142.1" cy="519.1" r="2.25"/><circle cx="145.3" cy="517.8" r="2.25"/><circle cx="183.6" cy="507.1" r="2.25"/><circle cx="199.7" cy="505.1" r="2.25"/><circle cx="200.8" cy="505.3" r="2.25"/><circle cx="207.2" cy="504.4" r="2.25"/><circle cx="151.7" cy="510.8" r="2.25"/><circle cx="148.5" cy="515.6" r="2.25"/><circle cx="152.1" cy="515.6" r="2.25"/><circle cx="154.8" cy="514.3" r="2.25"/><circle cx="164.4" cy="517" r="2.25"/><circle cx="167.4" cy="517" r="2.25"/><circle cx="169.2" cy="515.4" r="2.25"/><circle cx="172.9" cy="516.3" r="2.25"/><circle cx="176.8" cy="519.1" r="2.25"/><circle cx="180.9" cy="518.8" r="2.25"/><circle cx="182.5" cy="515.4" r="2.25"/><circle cx="186" cy="514" r="2.25"/><circle cx="189.7" cy="519.8" r="2.25"/><circle cx="191.9" cy="515.6" r="2.25"/><circle cx="197.9" cy="517.4" r="2.25"/><circle cx="205.2" cy="517.7" r="2.25"/><circle cx="207.2" cy="520.4" r="2.25"/><circle cx="224" cy="517.4" r="2.25"/></g><rect x="56.5" y="509.55" width="175.50" height="4.5" fill="#000"/><rect x="56.5" y="397.0" width="175.50" height="129.85" fill="none" stroke="#454545" stroke-width="1.3"/><line x1="53.1" x2="56.5" y1="522.80" y2="522.80" stroke="#222" stroke-width="1.3"/><text transform="translate(44.10,529.30) scale(0.91,1)" font-size="18.8" text-anchor="end">0</text><line x1="53.1" x2="56.5" y1="467.80" y2="467.80" stroke="#222" stroke-width="1.3"/><text transform="translate(44.10,474.30) scale(0.91,1)" font-size="18.8" text-anchor="end">10</text><line x1="53.1" x2="56.5" y1="412.80" y2="412.80" stroke="#222" stroke-width="1.3"/><text transform="translate(44.10,419.30) scale(0.91,1)" font-size="18.8" text-anchor="end">20</text><line x1="64.70" x2="64.70" y1="526.85" y2="530.75" stroke="#222" stroke-width="1.3"/><text transform="translate(65.00,551.85) scale(0.91,1)" font-size="18.8" text-anchor="middle">0.00</text><line x1="136.80" x2="136.80" y1="526.85" y2="530.75" stroke="#222" stroke-width="1.3"/><text transform="translate(137.10,551.85) scale(0.91,1)" font-size="18.8" text-anchor="middle">0.25</text><line x1="208.90" x2="208.90" y1="526.85" y2="530.75" stroke="#222" stroke-width="1.3"/><text transform="translate(209.20,551.85) scale(0.91,1)" font-size="18.8" text-anchor="middle">0.50</text><text x="144.25" y="576.45" font-size="24" text-anchor="middle" xml:space="preserve">CuSO<tspan font-size="17.8" dy="3.2" font-family="'Liberation Sans',sans-serif">4</tspan><tspan dy="-3.2"> (mg/L)</tspan></text><text transform="translate(18,461.93) rotate(-90)" font-size="24" text-anchor="middle">DCW (g/L)</text></g>
<g><g fill="#aeeadf" stroke="#1a1aff" stroke-width="1.2"><circle cx="341.1" cy="402.8" r="2.25"/><circle cx="337.6" cy="410.2" r="2.25"/><circle cx="337.6" cy="412.8" r="2.25"/><circle cx="344.8" cy="415.1" r="2.25"/><circle cx="350.6" cy="414" r="2.25"/><circle cx="290.1" cy="424.2" r="2.25"/><circle cx="297.1" cy="426" r="2.25"/><circle cx="308" cy="432.8" r="2.25"/><circle cx="302.4" cy="435.2" r="2.25"/><circle cx="334.3" cy="433.4" r="2.25"/><circle cx="368.6" cy="427.7" r="2.25"/><circle cx="290.1" cy="442.2" r="2.25"/><circle cx="309.6" cy="441.6" r="2.25"/><circle cx="369.5" cy="442.3" r="2.25"/><circle cx="290.1" cy="447.5" r="2.25"/><circle cx="291.5" cy="451.4" r="2.25"/><circle cx="290.1" cy="453.5" r="2.25"/><circle cx="351.9" cy="448.3" r="2.25"/><circle cx="345.7" cy="454.1" r="2.25"/><circle cx="345.7" cy="458.4" r="2.25"/><circle cx="313.8" cy="460.6" r="2.25"/><circle cx="359.1" cy="460.6" r="2.25"/><circle cx="376.7" cy="418" r="2.25"/><circle cx="380.5" cy="421.4" r="2.25"/><circle cx="378.4" cy="438.8" r="2.25"/><circle cx="391.8" cy="437.2" r="2.25"/><circle cx="414" cy="430" r="2.25"/><circle cx="413.8" cy="430.7" r="2.25"/><circle cx="407.9" cy="435.5" r="2.25"/><circle cx="405.8" cy="443.3" r="2.25"/><circle cx="418.8" cy="448.8" r="2.25"/><circle cx="414.4" cy="459.5" r="2.25"/><circle cx="430" cy="434.8" r="2.25"/><circle cx="440.8" cy="422.8" r="2.25"/><circle cx="441.1" cy="424.8" r="2.25"/><circle cx="293.4" cy="472.2" r="2.25"/><circle cx="290.1" cy="504.4" r="2.25"/><circle cx="300.8" cy="504.2" r="2.25"/><circle cx="359.5" cy="501.4" r="2.25"/><circle cx="362.8" cy="505" r="2.25"/><circle cx="366.8" cy="507.2" r="2.25"/><circle cx="369.9" cy="504.1" r="2.25"/><circle cx="323.4" cy="510.2" r="2.25"/><circle cx="290.1" cy="515.8" r="2.25"/><circle cx="290.1" cy="519.1" r="2.25"/><circle cx="292.5" cy="513.8" r="2.25"/><circle cx="299.1" cy="519.1" r="2.25"/><circle cx="303.9" cy="521.1" r="2.25"/><circle cx="307.6" cy="516.9" r="2.25"/><circle cx="308.9" cy="519.8" r="2.25"/><circle cx="309.9" cy="515.5" r="2.25"/><circle cx="313.5" cy="516.9" r="2.25"/><circle cx="316.8" cy="516.5" r="2.25"/><circle cx="323" cy="515.4" r="2.25"/><circle cx="327.7" cy="519.5" r="2.25"/><circle cx="329" cy="518.4" r="2.25"/><circle cx="335.2" cy="519.8" r="2.25"/><circle cx="339.8" cy="516.2" r="2.25"/><circle cx="341.8" cy="514.5" r="2.25"/><circle cx="349" cy="517.4" r="2.25"/><circle cx="350.3" cy="519.8" r="2.25"/><circle cx="351" cy="516.2" r="2.25"/><circle cx="353.6" cy="518.7" r="2.25"/><circle cx="358.9" cy="517.1" r="2.25"/><circle cx="364.5" cy="519.1" r="2.25"/><circle cx="367.4" cy="517.2" r="2.25"/><circle cx="371.1" cy="517.8" r="2.25"/><circle cx="384.8" cy="475.2" r="2.25"/><circle cx="373.4" cy="482.4" r="2.25"/><circle cx="408.8" cy="485.9" r="2.25"/><circle cx="431.5" cy="473.8" r="2.25"/><circle cx="372.9" cy="509.5" r="2.25"/><circle cx="396.9" cy="505.1" r="2.25"/><circle cx="372.2" cy="517" r="2.25"/><circle cx="374.2" cy="519.5" r="2.25"/><circle cx="379.7" cy="518.4" r="2.25"/><circle cx="385.6" cy="515.6" r="2.25"/><circle cx="385.6" cy="520" r="2.25"/><circle cx="390" cy="515.6" r="2.25"/><circle cx="390.4" cy="520.4" r="2.25"/><circle cx="392.8" cy="519.8" r="2.25"/><circle cx="398.5" cy="518.4" r="2.25"/><circle cx="402.4" cy="515.4" r="2.25"/><circle cx="410.2" cy="518.7" r="2.25"/><circle cx="415.7" cy="518.7" r="2.25"/><circle cx="418.8" cy="520.9" r="2.25"/><circle cx="421.6" cy="518.4" r="2.25"/><circle cx="426.4" cy="515.6" r="2.25"/><circle cx="428.4" cy="514.3" r="2.25"/><circle cx="432.6" cy="519.1" r="2.25"/><circle cx="433.5" cy="515.9" r="2.25"/><circle cx="437.4" cy="516.3" r="2.25"/><circle cx="444.9" cy="517.7" r="2.25"/><circle cx="447" cy="515" r="2.25"/><circle cx="449.7" cy="517.7" r="2.25"/></g><rect x="282.4" y="509.55" width="175.10" height="4.5" fill="#000"/><rect x="282.4" y="397.0" width="175.10" height="129.85" fill="none" stroke="#454545" stroke-width="1.3"/><line x1="279.0" x2="282.4" y1="522.80" y2="522.80" stroke="#222" stroke-width="1.3"/><text transform="translate(270.00,529.30) scale(0.91,1)" font-size="18.8" text-anchor="end">0</text><line x1="279.0" x2="282.4" y1="467.80" y2="467.80" stroke="#222" stroke-width="1.3"/><text transform="translate(270.00,474.30) scale(0.91,1)" font-size="18.8" text-anchor="end">10</text><line x1="279.0" x2="282.4" y1="412.80" y2="412.80" stroke="#222" stroke-width="1.3"/><text transform="translate(270.00,419.30) scale(0.91,1)" font-size="18.8" text-anchor="end">20</text><line x1="289.90" x2="289.90" y1="526.85" y2="530.75" stroke="#222" stroke-width="1.3"/><text transform="translate(290.20,551.85) scale(0.91,1)" font-size="18.8" text-anchor="middle">0.00</text><line x1="370.75" x2="370.75" y1="526.85" y2="530.75" stroke="#222" stroke-width="1.3"/><text transform="translate(371.05,551.85) scale(0.91,1)" font-size="18.8" text-anchor="middle">0.05</text><line x1="451.60" x2="451.60" y1="526.85" y2="530.75" stroke="#222" stroke-width="1.3"/><text transform="translate(451.90,551.85) scale(0.91,1)" font-size="18.8" text-anchor="middle">0.10</text><text x="369.95" y="576.45" font-size="24" text-anchor="middle" xml:space="preserve">Na<tspan font-size="17.8" dy="3.2" font-family="'Liberation Sans',sans-serif">2</tspan><tspan dy="-3.2">MoO</tspan><tspan font-size="17.8" dy="3.2" font-family="'Liberation Sans',sans-serif">4</tspan><tspan dy="-3.2"> (mg/L)</tspan></text></g>
<g><g fill="#aeeadf" stroke="#1a1aff" stroke-width="1.2"><circle cx="593.9" cy="402.7" r="2.25"/><circle cx="594.7" cy="413.9" r="2.25"/><circle cx="515.9" cy="424.2" r="2.25"/><circle cx="515.9" cy="442.2" r="2.25"/><circle cx="515.9" cy="447.2" r="2.25"/><circle cx="515.9" cy="453.8" r="2.25"/><circle cx="597" cy="451.4" r="2.25"/><circle cx="654.5" cy="410.1" r="2.25"/><circle cx="660" cy="414.8" r="2.25"/><circle cx="670.2" cy="412.7" r="2.25"/><circle cx="668.1" cy="421.4" r="2.25"/><circle cx="637.7" cy="418" r="2.25"/><circle cx="637.4" cy="422.8" r="2.25"/><circle cx="639.3" cy="425.1" r="2.25"/><circle cx="643.4" cy="425.5" r="2.25"/><circle cx="642.5" cy="427.6" r="2.25"/><circle cx="644.1" cy="432.4" r="2.25"/><circle cx="637.7" cy="434.8" r="2.25"/><circle cx="645.9" cy="438.8" r="2.25"/><circle cx="623.2" cy="430.6" r="2.25"/><circle cx="619.1" cy="435.5" r="2.25"/><circle cx="630.1" cy="435.1" r="2.25"/><circle cx="620.1" cy="441.3" r="2.25"/><circle cx="629.4" cy="443.6" r="2.25"/><circle cx="653.9" cy="433.1" r="2.25"/><circle cx="659.6" cy="430" r="2.25"/><circle cx="656.9" cy="437.2" r="2.25"/><circle cx="602.7" cy="442.4" r="2.25"/><circle cx="615.4" cy="454" r="2.25"/><circle cx="607.5" cy="459.4" r="2.25"/><circle cx="613" cy="460.5" r="2.25"/><circle cx="670.3" cy="447.9" r="2.25"/><circle cx="672" cy="448.8" r="2.25"/><circle cx="675.1" cy="458" r="2.25"/><circle cx="658" cy="460.5" r="2.25"/><circle cx="576.1" cy="472.1" r="2.25"/><circle cx="557.4" cy="504.6" r="2.25"/><circle cx="591" cy="504.4" r="2.25"/><circle cx="515.9" cy="509" r="2.25"/><circle cx="515.9" cy="516.5" r="2.25"/><circle cx="515.9" cy="519.8" r="2.25"/><circle cx="520.5" cy="516.9" r="2.25"/><circle cx="523.5" cy="517.8" r="2.25"/><circle cx="527.7" cy="513.8" r="2.25"/><circle cx="529.9" cy="520.4" r="2.25"/><circle cx="534.9" cy="515.8" r="2.25"/><circle cx="543.5" cy="515.5" r="2.25"/><circle cx="548.7" cy="515.8" r="2.25"/><circle cx="551.4" cy="517.8" r="2.25"/><circle cx="554" cy="518.7" r="2.25"/><circle cx="553.3" cy="520.8" r="2.25"/><circle cx="554.2" cy="515.2" r="2.25"/><circle cx="566.5" cy="516.5" r="2.25"/><circle cx="568.7" cy="519.1" r="2.25"/><circle cx="571.7" cy="519.8" r="2.25"/><circle cx="572.4" cy="517.1" r="2.25"/><circle cx="574.7" cy="515.4" r="2.25"/><circle cx="579.6" cy="516.5" r="2.25"/><circle cx="582.6" cy="519.1" r="2.25"/><circle cx="586.6" cy="519.5" r="2.25"/><circle cx="590.1" cy="515.8" r="2.25"/><circle cx="593.4" cy="517.4" r="2.25"/><circle cx="597.1" cy="517.8" r="2.25"/><circle cx="629.1" cy="473.8" r="2.25"/><circle cx="636.6" cy="475.2" r="2.25"/><circle cx="617.1" cy="482.4" r="2.25"/><circle cx="636.7" cy="485.9" r="2.25"/><circle cx="605.4" cy="507.1" r="2.25"/><circle cx="620.8" cy="505.1" r="2.25"/><circle cx="635.6" cy="505.3" r="2.25"/><circle cx="640.4" cy="501.2" r="2.25"/><circle cx="642" cy="504.4" r="2.25"/><circle cx="645.9" cy="510.1" r="2.25"/><circle cx="663.3" cy="510.1" r="2.25"/><circle cx="597.9" cy="517.3" r="2.25"/><circle cx="600.6" cy="514.3" r="2.25"/><circle cx="603.1" cy="519.5" r="2.25"/><circle cx="607.2" cy="519.1" r="2.25"/><circle cx="610.2" cy="517" r="2.25"/><circle cx="614.6" cy="521.1" r="2.25"/><circle cx="617.1" cy="518.4" r="2.25"/><circle cx="620.1" cy="519.1" r="2.25"/><circle cx="620.5" cy="515" r="2.25"/><circle cx="626.7" cy="518.4" r="2.25"/><circle cx="630.8" cy="519.1" r="2.25"/><circle cx="641.1" cy="516.3" r="2.25"/><circle cx="642.9" cy="520" r="2.25"/><circle cx="648.4" cy="518.1" r="2.25"/><circle cx="649.3" cy="514.3" r="2.25"/><circle cx="657.6" cy="518.4" r="2.25"/><circle cx="661.3" cy="519.1" r="2.25"/><circle cx="662.1" cy="517" r="2.25"/><circle cx="666.5" cy="515.9" r="2.25"/><circle cx="674" cy="518.4" r="2.25"/></g><rect x="508.0" y="509.55" width="175.10" height="4.5" fill="#000"/><rect x="508.0" y="397.0" width="175.10" height="129.85" fill="none" stroke="#454545" stroke-width="1.3"/><line x1="504.6" x2="508.0" y1="522.80" y2="522.80" stroke="#222" stroke-width="1.3"/><text transform="translate(495.60,529.30) scale(0.91,1)" font-size="18.8" text-anchor="end">0</text><line x1="504.6" x2="508.0" y1="467.80" y2="467.80" stroke="#222" stroke-width="1.3"/><text transform="translate(495.60,474.30) scale(0.91,1)" font-size="18.8" text-anchor="end">10</text><line x1="504.6" x2="508.0" y1="412.80" y2="412.80" stroke="#222" stroke-width="1.3"/><text transform="translate(495.60,419.30) scale(0.91,1)" font-size="18.8" text-anchor="end">20</text><line x1="515.30" x2="515.30" y1="526.85" y2="530.75" stroke="#222" stroke-width="1.3"/><text transform="translate(515.60,551.85) scale(0.91,1)" font-size="18.8" text-anchor="middle">0</text><line x1="579.80" x2="579.80" y1="526.85" y2="530.75" stroke="#222" stroke-width="1.3"/><text transform="translate(580.10,551.85) scale(0.91,1)" font-size="18.8" text-anchor="middle">1</text><line x1="644.30" x2="644.30" y1="526.85" y2="530.75" stroke="#222" stroke-width="1.3"/><text transform="translate(644.60,551.85) scale(0.91,1)" font-size="18.8" text-anchor="middle">2</text><text x="595.55" y="576.45" font-size="24" text-anchor="middle" xml:space="preserve">Na<tspan font-size="17.8" dy="3.2" font-family="'Liberation Sans',sans-serif">4</tspan><tspan dy="-3.2">EDTA (mg/L)</tspan></text></g>
</svg></body></html>
